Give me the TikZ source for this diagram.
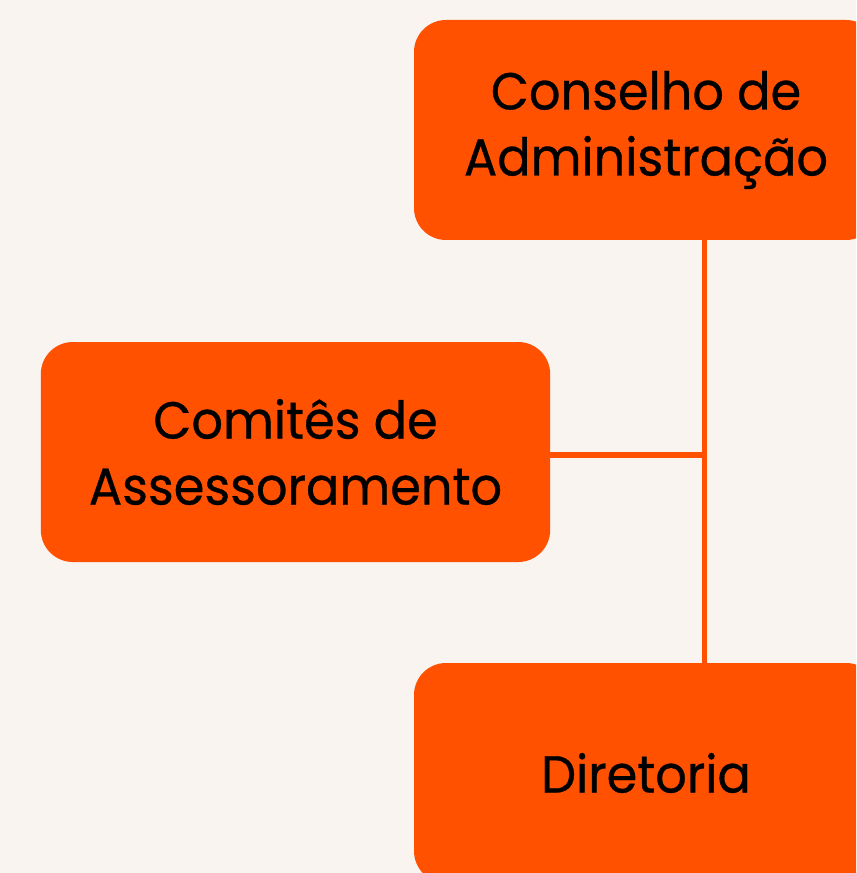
\documentclass[tikz,border=0pt]{standalone}
\usepackage{fontspec}
\setmainfont{Poppins}[FakeStretch=0.95,FakeBold=0.6]
\definecolor{bgc}{RGB}{249,244,240}
\definecolor{orng}{RGB}{255,81,0}
\tikzset{
  orgbox/.style={fill=orng, draw=none, rounded corners=24pt, align=center,
    text=black, inner sep=0pt, font=\fontsize{39}{49.5}\selectfont},
  link/.style={draw=orng, line width=3.8pt}
}
\begin{document}
\begin{tikzpicture}[x=0.75pt,y=-0.75pt]
\useasboundingbox (0,0) rectangle (856,873);
\fill[bgc] (0,0) rectangle (856,873);
\clip (0,0) rectangle (856,873);
\node[orgbox, minimum width=348pt, minimum height=165pt] (top) at (646,130) {Conselho de\\Administração};
\node[orgbox, minimum width=382pt, minimum height=165pt] (mid) at (295.5,452) {Comitês de\\Assessoramento};
\node[orgbox, minimum width=348pt, minimum height=165pt] (bot) at (646,773) {Diretoria};
\coordinate (j) at (704.5,455);
\draw[link] (top.south -| j) -- (bot.north -| j);
\draw[link] (mid.east |- j) -- (j);
\end{tikzpicture}
\end{document}
